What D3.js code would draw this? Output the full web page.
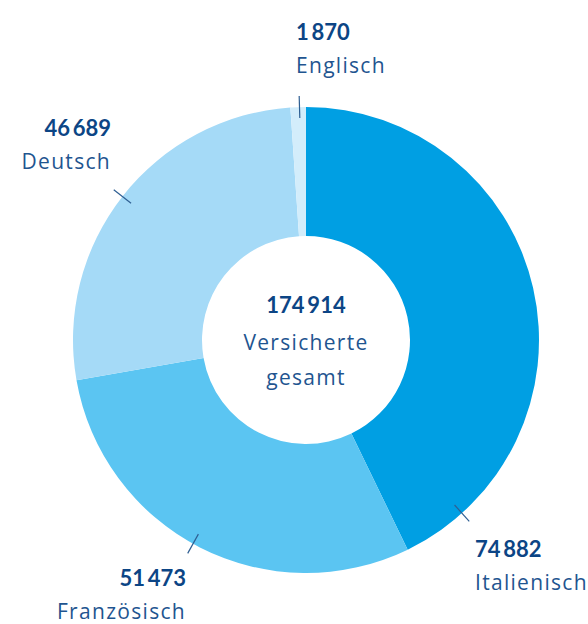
<!DOCTYPE html>
<html lang="de">
<head>
<meta charset="UTF-8">
<title>Versicherte nach Sprache</title>
<style>
  body { margin: 0; background: #fff; }
  text { font-family: "Lato", "Open Sans", sans-serif; }
  text.num { font-weight: 700; font-size: 22px; fill: #0c4585; }
  text.lab { font-family: "Open Sans", sans-serif; font-weight: 400; font-size: 21px; letter-spacing: 1.3px; fill: #1f5590; }
  line.lead { stroke: #2f5f93; stroke-width: 1.2; }
</style>
</head>
<body>
<div id="chart"></div>
<script src="https://cdnjs.cloudflare.com/ajax/libs/d3/7.8.5/d3.min.js"></script>
<script>
var languages = ["Italienisch", "Französisch", "Deutsch", "Englisch"];
var values = [74882, 51473, 46689, 1870];
var colors = ["#009fe3", "#5bc5f2", "#a5daf7", "#d3edfb"];
var totalLabel = ["Versicherte", "gesamt"];

(function() {
  var W = 588, H = 624;
  var cx = 306, cy = 340, rOut = 233, rIn = 104;

  var svg = d3.select("#chart").append("svg")
    .attr("width", W).attr("height", H);

  var g = svg.append("g").attr("transform", "translate(" + cx + "," + cy + ")");

  var data = languages.map(function(l, i) { return { name: l, value: values[i], color: colors[i] }; });

  var pie = d3.pie().sort(null).value(function(d) { return d.value; });
  var arc = d3.arc().innerRadius(rIn).outerRadius(rOut);

  g.selectAll("path.slice").data(pie(data)).enter().append("path")
    .attr("class", "slice")
    .attr("d", arc)
    .attr("fill", function(d) { return d.data.color; });

  var fmt = function(v) { return d3.format(",")(v).replace(/,/g, "\u2009"); };

  // label placement: leader angle (deg, clockwise from top), text anchor point
  var place = {
    "Italienisch": { ang: 138, x: 475, y: 557, anchor: "start" },
    "Französisch": { ang: 209, x: 186, y: 586, anchor: "end" },
    "Deutsch":     { ang: 308, x: 111, y: 136, anchor: "end" },
    "Englisch":    { ang: 358.4, x: 296, y: 40, anchor: "start" }
  };

  data.forEach(function(d) {
    var p = place[d.name];
    var a = p.ang * Math.PI / 180;
    var r1 = rOut - 11, r2 = rOut + 11;
    g.append("line").attr("class", "lead")
      .attr("x1", Math.sin(a) * r1).attr("y1", -Math.cos(a) * r1)
      .attr("x2", Math.sin(a) * r2).attr("y2", -Math.cos(a) * r2);

    svg.append("text").attr("class", "num")
      .attr("x", p.x).attr("y", p.y)
      .attr("text-anchor", p.anchor)
      .text(fmt(d.value));
    svg.append("text").attr("class", "lab")
      .attr("x", p.x).attr("y", p.y + 33)
      .attr("text-anchor", p.anchor)
      .text(d.name);
  });

  var total = d3.sum(values);
  g.append("text").attr("class", "num")
    .attr("text-anchor", "middle").attr("y", -27)
    .text(fmt(total));
  totalLabel.forEach(function(t, i) {
    g.append("text").attr("class", "lab")
      .attr("text-anchor", "middle").attr("y", 10 + i * 35)
      .text(t);
  });
})();
</script>
</body>
</html>
